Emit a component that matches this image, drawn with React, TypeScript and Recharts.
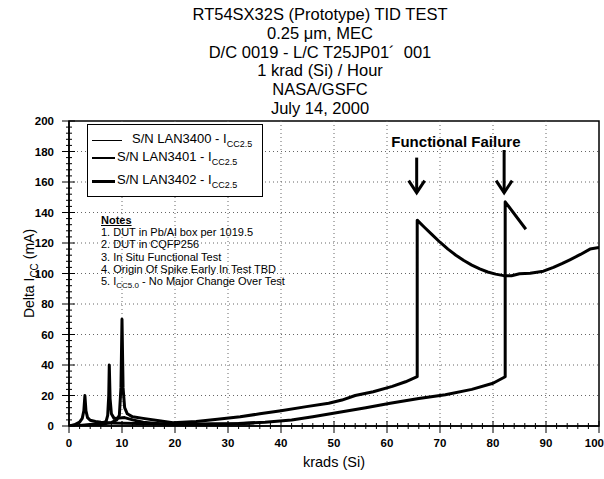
import React from 'react';
import {
  LineChart,
  Line,
  XAxis,
  YAxis,
  Legend,
  Label,
  ReferenceLine,
  ReferenceArea,
  ReferenceDot,
} from 'recharts';

const FONT = '"Liberation Sans", Arial, sans-serif';

const TITLE_LINES = [
  'RT54SX32S (Prototype) TID TEST',
  '0.25 \u03bcm, MEC',
  'D/C 0019 - L/C T25JP01\u00b4  001',
  '1 krad (Si) / Hour',
  'NASA/GSFC',
  'July 14, 2000',
];

const NOTES = [
  '1. DUT in Pb/Al box per 1019.5',
  '2. DUT in CQFP256',
  '3. In Situ Functional Test',
  '4. Origin Of Spike Early In Test TBD',
];

const X_MAJOR = [0, 10, 20, 30, 40, 50, 60, 70, 80, 90, 100];
const Y_MAJOR = [0, 20, 40, 60, 80, 100, 120, 140, 160, 180, 200];
// minor ticks every 2 krad / every 4 mA
const X_TICKS = X_MAJOR.flatMap((v) => (v < 100 ? [v, v + 2, v + 4, v + 6, v + 8] : [v]));
const Y_TICKS = Y_MAJOR.flatMap((v) => (v < 200 ? [v, v + 4, v + 8, v + 12, v + 16] : [v]));

// krads (Si) vs delta Icc (mA)
const lan3400 = [
  { k: 0, ma: 0 }, { k: 1, ma: 0.8 }, { k: 2, ma: 2.5 }, { k: 2.5, ma: 5 },
  { k: 2.8, ma: 10 }, { k: 3, ma: 20 }, { k: 3.2, ma: 10 }, { k: 3.5, ma: 5.5 },
  { k: 4, ma: 3.8 }, { k: 5, ma: 3 }, { k: 6, ma: 2.5 }, { k: 8, ma: 2 },
  { k: 10, ma: 1.8 }, { k: 13, ma: 1.7 }, { k: 17, ma: 1.4 }, { k: 22, ma: 1.2 },
  { k: 27, ma: 1.4 }, { k: 32, ma: 1.7 }, { k: 37, ma: 2.5 }, { k: 42, ma: 3.9 },
  { k: 46, ma: 6 }, { k: 51, ma: 9 }, { k: 56, ma: 12 }, { k: 60.6, ma: 14.9 },
  { k: 66, ma: 18 }, { k: 71, ma: 20.5 }, { k: 76, ma: 24 }, { k: 80, ma: 28 },
  { k: 82.3, ma: 32.3 }, { k: 82.3, ma: 147 }, { k: 86.2, ma: 129 },
];

const lan3401 = [
  { k: 0, ma: 0 }, { k: 2, ma: 0.4 }, { k: 4, ma: 1 }, { k: 6, ma: 1.6 },
  { k: 7, ma: 3 }, { k: 7.3, ma: 7 }, { k: 7.5, ma: 20 }, { k: 7.6, ma: 40 },
  { k: 7.75, ma: 18 }, { k: 8, ma: 8 }, { k: 8.5, ma: 5 }, { k: 9.5, ma: 5.2 },
  { k: 10.5, ma: 5.5 }, { k: 12, ma: 4 }, { k: 14, ma: 2.5 }, { k: 17, ma: 1.5 },
  { k: 20, ma: 1 }, { k: 25, ma: 0.8 }, { k: 30, ma: 1.2 }, { k: 35, ma: 1.9 },
];

const lan3402 = [
  { k: 0, ma: 0 }, { k: 3, ma: 0.3 }, { k: 6, ma: 1 }, { k: 8, ma: 2.2 },
  { k: 9, ma: 4 }, { k: 9.5, ma: 7 }, { k: 9.8, ma: 25 }, { k: 10, ma: 70 },
  { k: 10.2, ma: 25 }, { k: 10.5, ma: 12 }, { k: 11, ma: 8 }, { k: 12, ma: 6 },
  { k: 14, ma: 5 }, { k: 17, ma: 3.5 }, { k: 19.6, ma: 2.2 }, { k: 24, ma: 3 },
  { k: 28, ma: 4.5 }, { k: 32.3, ma: 6 }, { k: 36, ma: 8 }, { k: 40, ma: 10 },
  { k: 44.8, ma: 12.7 }, { k: 49, ma: 14.9 }, { k: 51.5, ma: 17 }, { k: 54, ma: 20 },
  { k: 57.4, ma: 22.5 }, { k: 61, ma: 26 }, { k: 63.5, ma: 29 }, { k: 65.7, ma: 32.3 },
  { k: 65.7, ma: 135 }, { k: 67, ma: 130.5 }, { k: 68.5, ma: 125.5 }, { k: 70, ma: 120.5 },
  { k: 71.5, ma: 116 }, { k: 73, ma: 112 }, { k: 74.5, ma: 108.5 }, { k: 76, ma: 105.5 },
  { k: 77.5, ma: 103 }, { k: 79, ma: 101 }, { k: 80.5, ma: 99.6 }, { k: 82, ma: 98.6 },
  { k: 83.5, ma: 98.5 }, { k: 85, ma: 99.8 }, { k: 87, ma: 100.2 }, { k: 89.5, ma: 101.5 },
  { k: 91.4, ma: 104 }, { k: 93, ma: 106.5 }, { k: 94.5, ma: 109 }, { k: 96.5, ma: 112.5 },
  { k: 98.3, ma: 116 }, { k: 100, ma: 117 },
];

const SERIES = [
  { name: 'S/N LAN3400 - I', data: lan3400, legendWidth: 1 },
  { name: 'S/N LAN3401 - I', data: lan3401, legendWidth: 1.5 },
  { name: 'S/N LAN3402 - I', data: lan3402, legendWidth: 3 },
];

// failure arrows
const FAILURE_K = [65.6, 82.1];
const ARROW_TOP = [176, 181];
const ARROW_TIP = 153;

const YTick = (props: any) => {
  const { x, y, payload } = props;
  const major = payload.value % 20 === 0;
  return (
    <g>
      <line x1={x - (major ? 7 : 3)} x2={x + (major ? 6 : 3)} y1={y} y2={y} stroke="#000" />
      {major && (
        <text x={x - 15} y={y + 4} textAnchor="end" fontSize={11.5} fontWeight="bold" fontFamily={FONT} fill="#000">
          {payload.value}
        </text>
      )}
    </g>
  );
};

const XTick = (props: any) => {
  const { x, y, payload } = props;
  const major = payload.value % 10 === 0;
  const last = payload.value === 100;
  return (
    <g>
      <line x1={x} x2={x} y1={y - (major ? 5 : 3)} y2={y + (major ? 7 : 3)} stroke="#000" />
      {major && (
        <text
          x={last ? x + 5 : x}
          y={y + 21}
          textAnchor={last ? 'end' : 'middle'}
          fontSize={11.5}
          fontWeight="bold"
          fontFamily={FONT}
          fill="#000"
        >
          {payload.value}
        </text>
      )}
    </g>
  );
};

const Arrow = (p: any) => {
  const { x1, y1, x2, y2 } = p;
  const tipY = Math.max(y1, y2);
  const topY = Math.min(y1, y2);
  return (
    <g>
      <line x1={x1} x2={x2} y1={topY} y2={tipY} stroke="#000" strokeWidth={3} />
      <polyline
        points={`${x2 - 8},${tipY - 12} ${x2},${tipY} ${x2 + 8},${tipY - 12}`}
        fill="none"
        stroke="#000"
        strokeWidth={3}
      />
    </g>
  );
};

const LegendBox = () => (
  <div
    style={{
      position: 'relative',
      width: 176,
      height: 73,
      boxSizing: 'border-box',
      border: '1.5px solid #000',
      background: '#fff',
      fontFamily: FONT,
      fontSize: 13,
      color: '#000',
    }}
  >
    {SERIES.map((s, i) => {
      const top = [15, 33, 56][i];
      const lineW = i === 0 ? 30 : 23;
      const textLeft = i === 0 ? 44 : 29;
      return (
        <div key={s.name}>
          <div
            style={{
              position: 'absolute',
              left: 4,
              top: top - s.legendWidth / 2,
              width: lineW,
              height: s.legendWidth,
              background: '#000',
            }}
          />
          <div style={{ position: 'absolute', left: textLeft, top: top - 9, whiteSpace: 'nowrap', lineHeight: '16px' }}>
            {s.name}
            <sub style={{ fontSize: 9, verticalAlign: '-4px' }}>CC2.5</sub>
          </div>
        </div>
      );
    })}
  </div>
);

export default function App() {
  return (
    <div style={{ position: 'absolute', left: 0, top: 0, width: 604, height: 479, background: '#fff' }}>
      <div
        style={{
          position: 'absolute',
          left: 120,
          top: 5,
          width: 400,
          textAlign: 'center',
          fontFamily: FONT,
          fontSize: 16.5,
          lineHeight: '18.8px',
          color: '#000',
          whiteSpace: 'pre',
        }}
      >
        {TITLE_LINES.map((t) => (
          <div key={t}>{t}</div>
        ))}
      </div>

      <LineChart width={604} height={479} margin={{ top: 121, right: 5, bottom: 13, left: 19 }}>
        {Y_MAJOR.slice(1, -1).map((v) => (
          <ReferenceLine key={`gy${v}`} y={v} stroke="#666" strokeWidth={1} strokeDasharray="1 3" />
        ))}
        {X_MAJOR.slice(1, -1).map((v) => (
          <ReferenceLine key={`gx${v}`} x={v} stroke="#666" strokeWidth={1} strokeDasharray="1 3" />
        ))}
        <XAxis
          type="number"
          dataKey="k"
          domain={[0, 100]}
          ticks={X_TICKS}
          interval={0}
          height={40}
          tickSize={0}
          tickMargin={0}
          tickLine={false}
          tick={<XTick />}
          axisLine={{ stroke: '#000', strokeWidth: 1.5 }}
          allowDataOverflow
        >
          <Label
            content={({ viewBox }: any) => (
              <text
                x={viewBox.x + viewBox.width / 2}
                y={viewBox.y + 41}
                textAnchor="middle"
                fontSize={14.5}
                fontFamily={FONT}
                fill="#000"
              >
                krads (Si)
              </text>
            )}
          />
        </XAxis>
        <YAxis
          type="number"
          domain={[0, 200]}
          ticks={Y_TICKS}
          interval={0}
          width={50}
          tickSize={0}
          tickMargin={0}
          tickLine={false}
          tick={<YTick />}
          axisLine={{ stroke: '#000', strokeWidth: 1.5 }}
          allowDataOverflow
        >
          <Label
            content={({ viewBox }: any) => {
              const cx = viewBox.x + 15;
              const cy = viewBox.y + viewBox.height / 2;
              return (
                <text
                  x={cx}
                  y={cy}
                  transform={`rotate(-90, ${cx}, ${cy})`}
                  textAnchor="middle"
                  fontSize={14}
                  fontFamily={FONT}
                  fill="#000"
                >
                  Delta I
                  <tspan fontSize={10} dy={4}>CC</tspan>
                  <tspan dy={-4}> (mA)</tspan>
                </text>
              );
            }}
          />
        </YAxis>
        <ReferenceArea x1={0} x2={100} y1={0} y2={200} fill="none" stroke="#000" strokeWidth={1.5} />
        {SERIES.map((s) => (
          <Line
            key={s.name}
            name={s.name}
            data={s.data}
            dataKey="ma"
            type="linear"
            stroke="#000"
            strokeWidth={3}
            strokeLinejoin="round"
            dot={false}
            isAnimationActive={false}
          />
        ))}
        {FAILURE_K.map((k, i) => (
          <ReferenceLine
            key={`arrow${k}`}
            segment={[
              { x: k, y: ARROW_TOP[i] },
              { x: k, y: ARROW_TIP },
            ]}
            shape={<Arrow />}
          />
        ))}
        <ReferenceDot
          x={73}
          y={186}
          r={0}
          shape={(p: any) => (
            <text
              x={p.cx}
              y={p.cy + 5}
              textAnchor="middle"
              fontSize={15}
              fontWeight="bold"
              fontFamily={FONT}
              fill="#000"
            >
              Functional Failure
            </text>
          )}
        />
        <Legend
          layout="vertical"
          align="center"
          verticalAlign="middle"
          content={() => <LegendBox />}
          wrapperStyle={{ left: 87, top: 124, right: 'auto', bottom: 'auto', width: 176, height: 73 }}
        />
      </LineChart>

      <div
        style={{
          position: 'absolute',
          left: 101,
          top: 214,
          fontFamily: FONT,
          fontSize: 11,
          lineHeight: '12.2px',
          color: '#000',
          whiteSpace: 'nowrap',
        }}
      >
        <div style={{ textDecoration: 'underline', fontWeight: 'bold' }}>Notes</div>
        {NOTES.map((n) => (
          <div key={n}>{n}</div>
        ))}
        <div>
          5. I<sub style={{ fontSize: 8, verticalAlign: '-3px' }}>CC5.0</sub> - No Major Change Over Test
        </div>
      </div>
    </div>
  );
}
